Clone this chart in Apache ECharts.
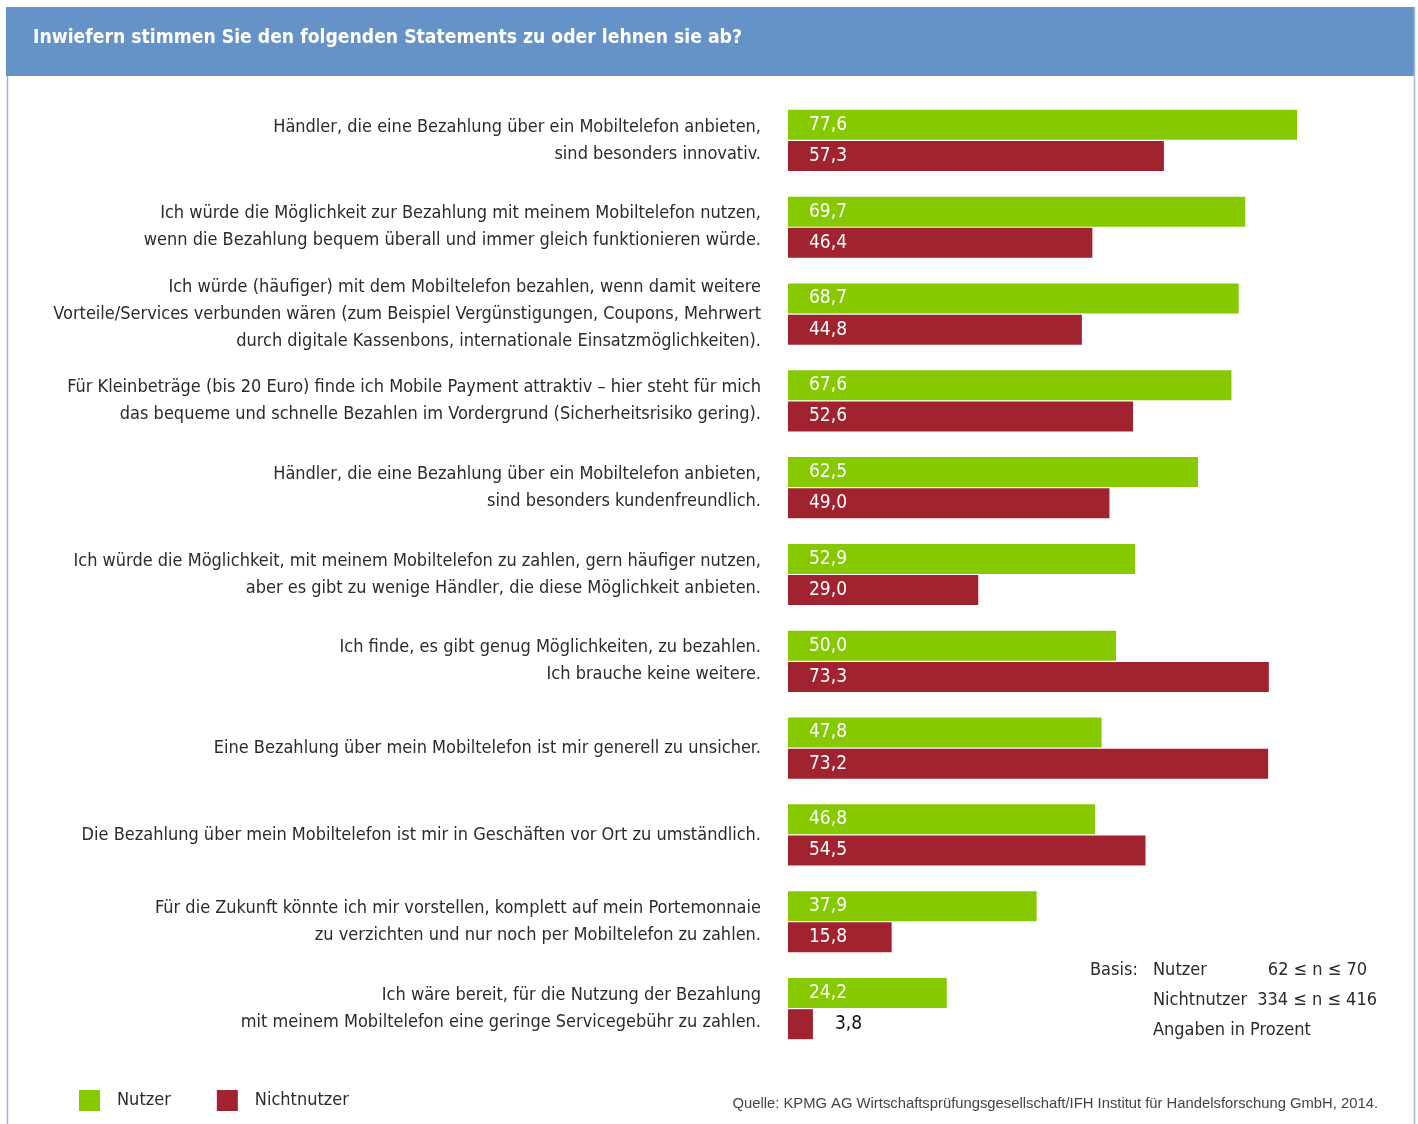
<!DOCTYPE html>
<html>
<head>
<meta charset="utf-8">
<script src="https://cdn.jsdelivr.net/npm/echarts@6/dist/echarts.min.js"></script>
<style>
  html, body { margin: 0; padding: 0; background: #fff; }
  #main { width: 1418px; height: 1124px; }
</style>
</head>
<body>
<div id="main"></div>
<script>
var FONT = "'DejaVu Sans Condensed', 'Liberation Sans Narrow', sans-serif";

var statements = [
    'Händler, die eine Bezahlung über ein Mobiltelefon anbieten,\nsind besonders innovativ.',
    'Ich würde die Möglichkeit zur Bezahlung mit meinem Mobiltelefon nutzen,\nwenn die Bezahlung bequem überall und immer gleich funktionieren würde.',
    'Ich würde (häufiger) mit dem Mobiltelefon bezahlen, wenn damit weitere\nVorteile/Services verbunden wären (zum Beispiel Vergünstigungen, Coupons, Mehrwert\ndurch digitale Kassenbons, internationale Einsatzmöglichkeiten).',
    'Für Kleinbeträge (bis 20 Euro) finde ich Mobile Payment attraktiv – hier steht für mich\ndas bequeme und schnelle Bezahlen im Vordergrund (Sicherheitsrisiko gering).',
    'Händler, die eine Bezahlung über ein Mobiltelefon anbieten,\nsind besonders kundenfreundlich.',
    'Ich würde die Möglichkeit, mit meinem Mobiltelefon zu zahlen, gern häufiger nutzen,\naber es gibt zu wenige Händler, die diese Möglichkeit anbieten.',
    'Ich finde, es gibt genug Möglichkeiten, zu bezahlen.\nIch brauche keine weitere.',
    'Eine Bezahlung über mein Mobiltelefon ist mir generell zu unsicher.',
    'Die Bezahlung über mein Mobiltelefon ist mir in Geschäften vor Ort zu umständlich.',
    'Für die Zukunft könnte ich mir vorstellen, komplett auf mein Portemonnaie\nzu verzichten und nur noch per Mobiltelefon zu zahlen.',
    'Ich wäre bereit, für die Nutzung der Bezahlung\nmit meinem Mobiltelefon eine geringe Servicegebühr zu zahlen.'
];

var nutzer      = [77.6, 69.7, 68.7, 67.6, 62.5, 52.9, 50.0, 47.8, 46.8, 37.9, 24.2];
var nichtnutzer = [57.3, 46.4, 44.8, 52.6, 49.0, 29.0, 73.3, 73.2, 54.5, 15.8, 3.8];

var seriesNames = ['Nutzer', 'Nichtnutzer'];

function fmt(v) {
    return v.toFixed(1).replace('.', ',');
}

// kleine Balken: Wert rechts daneben, schwarz
function toData(arr) {
    return arr.map(function (v) {
        if (v < 10) {
            return {
                value: v,
                label: { position: 'right', distance: 22, color: '#111' }
            };
        }
        return v;
    });
}

var chart = echarts.init(document.getElementById('main'));

var option = {
    animation: false,
    backgroundColor: '#fff',
    grid: {
        left: 788,
        top: 97,
        width: 524.8,
        height: 955,
        containLabel: false,
        outerBoundsMode: 'none'
    },
    legend: {
        left: 74,
        top: 1085,
        itemWidth: 21,
        itemHeight: 21,
        itemGap: 46,
        icon: 'rect',
        textStyle: { fontFamily: FONT, fontSize: 18, color: '#2b2b2b', padding: [0, 0, 0, 12] },
        data: seriesNames
    },
    xAxis: {
        type: 'value',
        min: 0,
        max: 80,
        show: false
    },
    yAxis: {
        type: 'category',
        inverse: true,
        data: statements,
        axisLine: { show: false },
        axisTick: { show: false },
        axisLabel: {
            margin: 27,
            fontFamily: FONT,
            fontSize: 18,
            lineHeight: 27,
            color: '#2b2b2b',
            align: 'right'
        }
    },
    series: [
        {
            name: seriesNames[0],
            type: 'bar',
            barWidth: 30,
            barGap: '4%',
            itemStyle: { color: '#86c900' },
            label: {
                show: true,
                position: 'insideLeft',
                distance: 21,
                fontFamily: FONT,
                fontSize: 19,
                color: '#fff',
                formatter: function (p) { return fmt(p.value); }
            },
            data: toData(nutzer)
        },
        {
            name: seriesNames[1],
            type: 'bar',
            barWidth: 30,
            barGap: '4%',
            itemStyle: { color: '#a0232f' },
            label: {
                show: true,
                position: 'insideLeft',
                distance: 21,
                fontFamily: FONT,
                fontSize: 19,
                color: '#fff',
                formatter: function (p) { return fmt(p.value); }
            },
            data: toData(nichtnutzer)
        }
    ],
    graphic: [
        {
            type: 'rect',
            shape: { x: 6, y: 7, width: 1408, height: 69 },
            style: { fill: '#6693c7' }
        },
        {
            type: 'text',
            left: 33,
            top: 29,
            style: {
                text: 'Inwiefern stimmen Sie den folgenden Statements zu oder lehnen sie ab?',
                fill: '#fff',
                font: 'bold 19.2px ' + FONT
            }
        },
        {
            type: 'line',
            shape: { x1: 7.5, y1: 76, x2: 7.5, y2: 1124 },
            style: { stroke: '#9ab8e0', lineWidth: 1.5 }
        },
        {
            type: 'line',
            shape: { x1: 1414.5, y1: 7, x2: 1414.5, y2: 1124 },
            style: { stroke: '#9ab8e0', lineWidth: 1.5 }
        },
        {
            type: 'text', left: 1090, top: 961,
            style: { text: 'Basis:', fill: '#2b2b2b', font: '18px ' + FONT }
        },
        {
            type: 'text', left: 1153, top: 961,
            style: { text: 'Nutzer', fill: '#2b2b2b', font: '18px ' + FONT }
        },
        {
            type: 'text', right: 1418 - 1367, top: 961,
            style: { text: '62 ≤ n ≤ 70', fill: '#2b2b2b', font: '18px ' + FONT }
        },
        {
            type: 'text', left: 1153, top: 991,
            style: { text: 'Nichtnutzer', fill: '#2b2b2b', font: '18px ' + FONT }
        },
        {
            type: 'text', right: 1418 - 1377, top: 991,
            style: { text: '334 ≤ n ≤ 416', fill: '#2b2b2b', font: '18px ' + FONT }
        },
        {
            type: 'text', left: 1153, top: 1021,
            style: { text: 'Angaben in Prozent', fill: '#2b2b2b', font: '18px ' + FONT }
        },
        {
            type: 'text', right: 40, top: 1096,
            style: {
                text: 'Quelle: KPMG AG Wirtschaftsprüfungsgesellschaft/IFH Institut für Handelsforschung GmbH, 2014.',
                fill: '#444',
                font: '14.8px "Liberation Sans", Arial, sans-serif'
            }
        }
    ]
};

chart.setOption(option);
</script>
</body>
</html>
